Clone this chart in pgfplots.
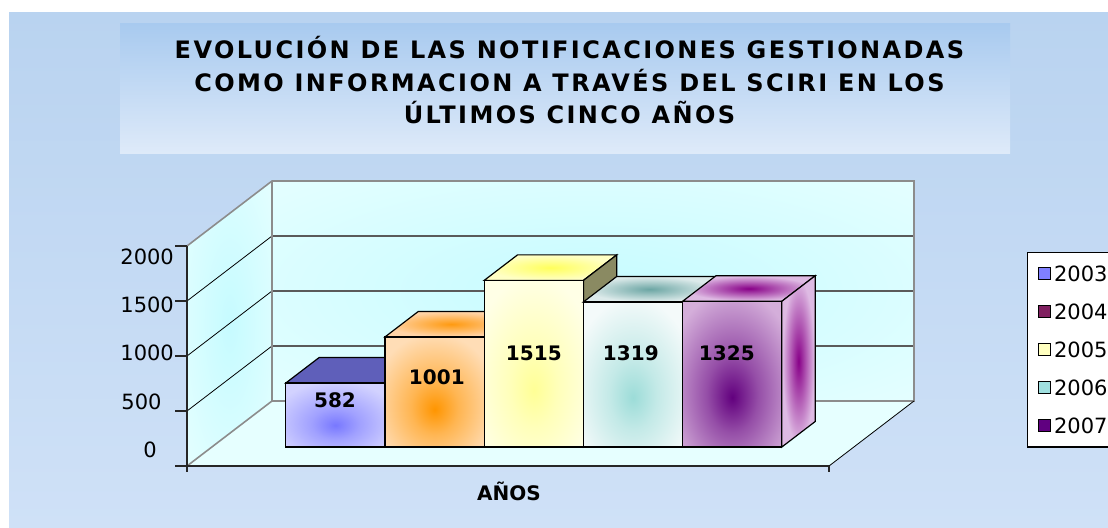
\documentclass[border=0pt]{standalone}
\usepackage{fontspec}
\setmainfont{DejaVu Sans}
\usepackage{pgfplots}
\pgfplotsset{compat=1.18}

\definecolor{bgtop}{HTML}{B9D3F0}
\definecolor{bgbot}{HTML}{CFE1F7}
\definecolor{ttop}{HTML}{A8CAEF}
\definecolor{tbot}{HTML}{DEEAF9}
\definecolor{wallin}{HTML}{C6FBFF}
\definecolor{wallout}{HTML}{E8FFFF}
\definecolor{floorc}{HTML}{E6FFFF}
\definecolor{gridc}{HTML}{5A5A5A}
\definecolor{edgec}{HTML}{8C8C8C}
\definecolor{bAin}{HTML}{7878FF}
\definecolor{bAout}{HTML}{D2D2FF}
\definecolor{bAtop}{HTML}{5F5FBA}
\definecolor{bBin}{HTML}{FF9500}
\definecolor{bBout}{HTML}{FFDDB6}
\definecolor{bBtin}{HTML}{FF9A10}
\definecolor{bBtout}{HTML}{FFD3A6}
\definecolor{bCin}{HTML}{FFFF96}
\definecolor{bCout}{HTML}{FFFFE6}
\definecolor{bCtin}{HTML}{FFFF5C}
\definecolor{bCtout}{HTML}{FFFFC4}
\definecolor{bCside}{HTML}{8A8A62}
\definecolor{bDin}{HTML}{9CDCD8}
\definecolor{bDout}{HTML}{F4FAFA}
\definecolor{bDtin}{HTML}{6CA6A4}
\definecolor{bDtout}{HTML}{DCEAEA}
\definecolor{bEin}{HTML}{62007E}
\definecolor{bEout}{HTML}{D4AEDA}
\definecolor{bEtin}{HTML}{880088}
\definecolor{bEtout}{HTML}{DEBAE3}
\colorlet{bAmid}{bAin!55!bAout}
\colorlet{bBmid}{bBin!55!bBout}
\colorlet{bCmid}{bCin!55!bCout}
\colorlet{bDmid}{bDin!55!bDout}
\colorlet{bEmid}{bEin!55!bEout}
\definecolor{lgA}{HTML}{8080FF}
\definecolor{lgB}{HTML}{802060}
\definecolor{lgC}{HTML}{FFFFC0}
\definecolor{lgD}{HTML}{A0E0E0}
\definecolor{lgE}{HTML}{600080}

\pgfdeclareradialshading{wallsh}{\pgfpoint{0bp}{0bp}}{color(0bp)=(wallin); color(40bp)=(wallout); color(100bp)=(wallout)}
\pgfdeclareradialshading{shA}{\pgfpoint{0bp}{-8bp}}{color(0bp)=(bAin); color(12bp)=(bAmid); color(32bp)=(bAout); color(100bp)=(bAout)}
\pgfdeclareradialshading{shB}{\pgfpoint{0bp}{-8bp}}{color(0bp)=(bBin); color(12bp)=(bBmid); color(32bp)=(bBout); color(100bp)=(bBout)}
\pgfdeclareradialshading{shBt}{\pgfpoint{0bp}{0bp}}{color(0bp)=(bBtin); color(24bp)=(bBtout); color(100bp)=(bBtout)}
\pgfdeclareradialshading{shC}{\pgfpoint{0bp}{-8bp}}{color(0bp)=(bCin); color(12bp)=(bCmid); color(32bp)=(bCout); color(100bp)=(bCout)}
\pgfdeclareradialshading{shCt}{\pgfpoint{0bp}{0bp}}{color(0bp)=(bCtin); color(24bp)=(bCtout); color(100bp)=(bCtout)}
\pgfdeclareradialshading{shD}{\pgfpoint{0bp}{-8bp}}{color(0bp)=(bDin); color(12bp)=(bDmid); color(32bp)=(bDout); color(100bp)=(bDout)}
\pgfdeclareradialshading{shDt}{\pgfpoint{0bp}{0bp}}{color(0bp)=(bDtin); color(24bp)=(bDtout); color(100bp)=(bDtout)}
\pgfdeclareradialshading{shE}{\pgfpoint{0bp}{-8bp}}{color(0bp)=(bEin); color(13bp)=(bEmid); color(34bp)=(bEout); color(100bp)=(bEout)}
\pgfdeclareradialshading{shEt}{\pgfpoint{0bp}{0bp}}{color(0bp)=(bEtin); color(24bp)=(bEtout); color(100bp)=(bEtout)}

\begin{document}
\begin{tikzpicture}
\useasboundingbox (0,0) rectangle (554pt,263.5pt);
\clip (0,0) rectangle (554pt,263.5pt);
\fill[white] (0,0) rectangle (554pt,263.5pt);
\shade[top color=bgtop, bottom color=bgbot] (4.5pt,0pt) rectangle (554pt,257.5pt);
\shade[top color=ttop, bottom color=tbot] (60pt,187pt) rectangle (505pt,252pt);
\begin{scope}[every node/.style={anchor=base, inner sep=0pt, font=\bfseries\fontsize{12}{14}\selectfont\addfontfeature{LetterSpace=10}}]
\node at (284.75pt,234.5pt) {EVOLUCIÓN DE LAS NOTIFICACIONES GESTIONADAS};
\node at (284.75pt,218pt) {COMO INFORMACION A TRAVÉS DEL SCIRI EN LOS};
\node at (284.75pt,202pt) {ÚLTIMOS CINCO AÑOS};
\end{scope}
\begin{axis}[
  at={(93.5pt,30.5pt)}, anchor=origin,
  x={(0.5pt,0pt)}, y={(42.5pt,32.5pt)}, z={(0pt,0.055pt)},
  xmin=0, xmax=642, ymin=0, ymax=1, zmin=0, zmax=2000,
  hide axis, clip=false,
  face/.style={forget plot, draw=black, line width=0.6pt},
  ln/.style={forget plot, line width=0.55pt},
  legend image code/.code={\draw[#1, draw=black, line width=0.5pt] (0pt,-3pt) rectangle (6pt,3pt);},
  legend style={at={(axis description cs:1.1554,0.751)}, anchor=north west,
    draw=black, fill=white, line width=0.6pt, inner sep=5pt, row sep=7.8pt,
    font=\fontsize{10.5}{12}\selectfont,
    nodes={inner sep=1.75pt, text height=7.7pt, text depth=0pt, anchor=west}},
  legend cell align=left,
]
% walls and floor
\addplot3[forget plot, draw=none, shade, shading=wallsh] coordinates {(0,0,0) (0,1,0) (0,1,2000) (0,0,2000)} --cycle;
\addplot3[forget plot, draw=none, shade, shading=wallsh] coordinates {(0,1,0) (642,1,0) (642,1,2000) (0,1,2000)} --cycle;
\addplot3[forget plot, draw=none, fill=floorc] coordinates {(0,0,0) (642,0,0) (642,1,0) (0,1,0)} --cycle;
% grid on back wall
\addplot3[ln, draw=gridc] coordinates {(0,1,500) (642,1,500)};
\addplot3[ln, draw=gridc] coordinates {(0,1,1000) (642,1,1000)};
\addplot3[ln, draw=gridc] coordinates {(0,1,1500) (642,1,1500)};
% grid on side wall
\addplot3[ln, draw=black, line width=0.4pt] coordinates {(0,0,500) (0,1,500)};
\addplot3[ln, draw=black, line width=0.4pt] coordinates {(0,0,1000) (0,1,1000)};
\addplot3[ln, draw=black, line width=0.4pt] coordinates {(0,0,1500) (0,1,1500)};
% wall edges
\addplot3[ln, draw=edgec, line width=0.8pt] coordinates {(0,0,0) (0,1,0) (642,1,0) (642,1,2000) (0,1,2000) (0,0,2000)};
\addplot3[ln, draw=edgec, line width=0.8pt] coordinates {(0,1,0) (0,1,2000)};
\addplot3[ln, draw=black, line width=0.4pt] coordinates {(642,0,0) (642,1,0)};
% front axis
\addplot3[ln, draw=black!85, line width=0.7pt] coordinates {(0,0,2000) (0,0,0) (642,0,0)};
\addplot3[ln, draw=black!85] coordinates {(-12,0,0) (0,0,0)};
\addplot3[ln, draw=black!85] coordinates {(-12,0,500) (0,0,500)};
\addplot3[ln, draw=black!85] coordinates {(-12,0,1000) (0,0,1000)};
\addplot3[ln, draw=black!85] coordinates {(-12,0,1500) (0,0,1500)};
\addplot3[ln, draw=black!85] coordinates {(-12,0,2000) (0,0,2000)};
\addplot3[ln, draw=black!85] coordinates {(0,0,0) (0,0,-55)};
\addplot3[ln, draw=black!85] coordinates {(642,0,0) (642,0,-55)};

% bar 2003 = 582
\addplot3[face, fill=bAtop] coordinates {(74,0.292,582) (173.2,0.292,582) (173.2,0.684,582) (74,0.684,582)} --cycle;
\addplot3[face, shade, shading=shA] coordinates {(74,0.292,0) (173.2,0.292,0) (173.2,0.292,582) (74,0.292,582)} --cycle;
% bar 2004 = 1001
\addplot3[face, shade, shading=shBt] coordinates {(173.2,0.292,1001) (272.4,0.292,1001) (272.4,0.684,1001) (173.2,0.684,1001)} --cycle;
\addplot3[face, shade, shading=shB] coordinates {(173.2,0.292,0) (272.4,0.292,0) (272.4,0.292,1001) (173.2,0.292,1001)} --cycle;
% bar 2005 = 1515
\addplot3[face, shade, shading=shCt] coordinates {(272.4,0.292,1515) (371.6,0.292,1515) (371.6,0.684,1515) (272.4,0.684,1515)} --cycle;
\addplot3[face, fill=bCside] coordinates {(371.6,0.292,0) (371.6,0.684,0) (371.6,0.684,1515) (371.6,0.292,1515)} --cycle;
\addplot3[face, shade, shading=shC] coordinates {(272.4,0.292,0) (371.6,0.292,0) (371.6,0.292,1515) (272.4,0.292,1515)} --cycle;
% bar 2006 = 1319
\addplot3[face, shade, shading=shDt] coordinates {(371.6,0.292,1319) (470.8,0.292,1319) (470.8,0.684,1319) (371.6,0.684,1319)} --cycle;
\addplot3[face, shade, shading=shD] coordinates {(371.6,0.292,0) (470.8,0.292,0) (470.8,0.292,1319) (371.6,0.292,1319)} --cycle;
% bar 2007 = 1325
\addplot3[face, shade, shading=shEt] coordinates {(470.8,0.292,1325) (570,0.292,1325) (570,0.684,1325) (470.8,0.684,1325)} --cycle;
\addplot3[face, shade, shading=shEt] coordinates {(570,0.292,0) (570,0.684,0) (570,0.684,1325) (570,0.292,1325)} --cycle;
\addplot3[face, shade, shading=shE] coordinates {(470.8,0.292,0) (570,0.292,0) (570,0.292,1325) (470.8,0.292,1325)} --cycle;

% value labels
\begin{scope}[every node/.style={font=\bfseries\fontsize{10}{12}\selectfont, inner sep=0pt}]
\node at (axis cs:123.2,0.292,427) {582};
\node at (axis cs:225,0.292,636) {1001};
\node at (axis cs:322,0.292,855) {1515};
\node at (axis cs:419,0.292,855) {1319};
\node at (axis cs:515,0.292,855) {1325};
\node at (axis cs:322,0,-227) {AÑOS};
\end{scope}
% tick labels
\begin{scope}[every node/.style={font=\fontsize{10.5}{12}\selectfont, inner sep=0pt}]
\node[anchor=west] at (axis cs:-67,0,1900) {2000};
\node[anchor=west] at (axis cs:-67,0,1464) {1500};
\node[anchor=west] at (axis cs:-67,0,1027) {1000};
\node[anchor=west] at (axis cs:-66,0,582) {500};
\node at (axis cs:-37,0,145) {0};
\end{scope}

\addlegendimage{fill=lgA}\addlegendentry{2003}
\addlegendimage{fill=lgB}\addlegendentry{2004}
\addlegendimage{fill=lgC}\addlegendentry{2005}
\addlegendimage{fill=lgD}\addlegendentry{2006}
\addlegendimage{fill=lgE}\addlegendentry{2007}
\end{axis}
\end{tikzpicture}
\end{document}
